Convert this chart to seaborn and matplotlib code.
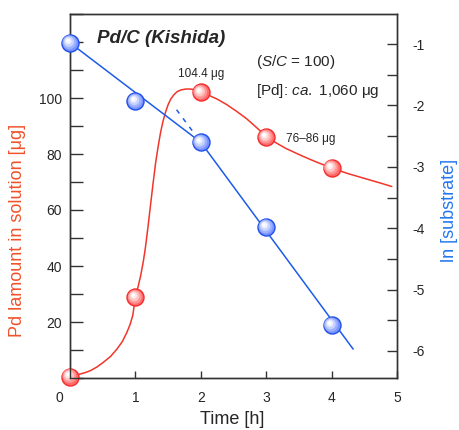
import matplotlib
matplotlib.use("Agg")
import matplotlib.pyplot as plt
import matplotlib.transforms as mtransforms
from matplotlib.ticker import MultipleLocator
import pandas as pd
import seaborn as sns

# ---- data ----
time_h = [0, 1, 2, 3, 4]
pd_amount = [0.5, 28.8, 102, 86, 75]          # Pd amount in solution [ug]
ln_substrate = [-0.98, -1.93, -2.60, -3.98, -5.58]

# traced smooth curve through the Pd points
pd_curve_x = [0, 0.08, 0.15, 0.23, 0.31, 0.41, 0.51, 0.62, 0.72, 0.8, 0.87, 0.92,
              0.96, 1.0, 1.04, 1.08, 1.12, 1.15, 1.19, 1.23, 1.27, 1.31, 1.35,
              1.385, 1.42, 1.46, 1.5, 1.54, 1.59, 1.64, 1.7, 1.77, 1.84, 1.9,
              2.0, 2.12, 2.25, 2.4, 2.55, 2.7, 2.85, 3.0, 3.15, 3.3, 3.54, 3.75,
              4.0, 4.25, 4.5, 4.75, 4.92]
pd_curve_y = [0.5, 0.9, 1.4, 1.9, 2.6, 3.9, 5.6, 7.7, 10.4, 13.0, 16.3, 19.2,
              22.4, 28.8, 32.5, 36.5, 41.5, 46, 53.5, 61.5, 69.5, 77, 83,
              87.7, 91.5, 94.9, 97.6, 99.6, 101.2, 102.3, 102.9, 103.2, 103.2, 103.0,
              102, 101.0, 99.6, 97.6, 95.2, 92.6, 89.5, 86.3, 84.0, 82.0, 79.4, 77.3,
              75, 73, 71.3, 69.6, 68.4]

# fitted lines for ln[substrate]
fit1_x = [0, 2]
fit1_y = [-0.98, -2.60]
fit2_x = [2, 4.33]
fit2_y = [-2.60, -5.97]
fit2_back_x = [1.63, 2]
fit2_back_y = [-2.07, -2.60]

RED = "#f2352a"
BLUE = "#1d5ce8"
RED_LABEL = "#f0522a"
BLUE_LABEL = "#2477f0"
SPINE = "#333333"

sns.set_style("ticks")
plt.rcParams["font.family"] = ["Liberation Sans", "DejaVu Sans"]
plt.rcParams["axes.unicode_minus"] = False
plt.rcParams["mathtext.fontset"] = "custom"
plt.rcParams["mathtext.it"] = "Liberation Sans:italic"
plt.rcParams["mathtext.rm"] = "Liberation Sans"

fig = plt.figure(figsize=(4.59, 4.30), dpi=100)
ax = fig.add_axes([70 / 459, 52 / 430, 327 / 459, 364 / 430])
ax2 = ax.twinx()


def glossy_balls(axis, x, y, layers):
    # stack a few shrinking circles shifted up-left to fake a shiny sphere
    for size, face, edge, lw, dx, dy in layers:
        sns.scatterplot(x=x, y=y, ax=axis, s=size, color=face, edgecolor=edge,
                        linewidth=lw, zorder=5, legend=False)
        coll = axis.collections[-1]
        coll.set_offset_transform(axis.transData + mtransforms.ScaledTranslation(
            dx / 72, dy / 72, fig.dpi_scale_trans))
        coll.set_clip_on(False)


# red curve + points
curve = pd.DataFrame({"t": pd_curve_x, "amt": pd_curve_y})
sns.lineplot(data=curve, x="t", y="amt", ax=ax, color=RED, lw=1.1, sort=False,
             estimator=None)
glossy_balls(ax, time_h, pd_amount, [
    (150, "#ff6a6a", "#f52c2c", 1.0, 0, 0),
    (100, "#ff9696", "none", 0, -0.4, 0.4),
    (55, "#ffc4c4", "none", 0, -0.8, 0.8),
    (22, "#ffeaea", "none", 0, -1.2, 1.3),
    (6, "#ffffff", "none", 0, -1.5, 1.6),
])

# blue lines + points
sns.lineplot(x=fit1_x, y=fit1_y, ax=ax2, color=BLUE, lw=1.1)
sns.lineplot(x=fit2_x, y=fit2_y, ax=ax2, color=BLUE, lw=1.1)
sns.lineplot(x=fit2_back_x, y=fit2_back_y, ax=ax2, color=BLUE, lw=1.1,
             dashes=False, linestyle=(0, (3, 4)))
glossy_balls(ax2, time_h, ln_substrate, [
    (150, "#7893ff", "#1f4fe8", 1.0, 0, 0),
    (100, "#9db1ff", "none", 0, -0.4, 0.4),
    (55, "#c8d4ff", "none", 0, -0.8, 0.8),
    (22, "#ecf0ff", "none", 0, -1.2, 1.3),
    (6, "#ffffff", "none", 0, -1.5, 1.6),
])

# axes limits & ticks
ax.set_xlim(0, 5)
ax.set_ylim(0, 130)
ax2.set_ylim(-6.44, -0.51)
ax.set_xticks([0, 1, 2, 3, 4, 5])
ax.set_yticks([20, 40, 60, 80, 100])
ax.yaxis.set_minor_locator(MultipleLocator(10))
ax2.set_yticks([-1, -2, -3, -4, -5, -6])
ax2.yaxis.set_minor_locator(MultipleLocator(0.5))

for a in (ax, ax2):
    for sp in a.spines.values():
        sp.set_visible(True)
        sp.set_color(SPINE)
        sp.set_linewidth(1.0)

ax.tick_params(axis="x", which="both", direction="in", length=5, width=1,
               color=SPINE, labelsize=10, pad=9, top=False)
ax.tick_params(axis="y", which="both", direction="in", length=9, width=1,
               color=SPINE, labelsize=10, pad=6, right=False)
ax2.tick_params(axis="y", which="both", direction="in", length=7, width=1,
                color=SPINE, labelsize=10, pad=11)

# the "0" on the time axis sits a bit to the left in the original
ax.get_xticklabels()[0].set_transform(
    ax.get_xticklabels()[0].get_transform()
    + mtransforms.ScaledTranslation(-8 / 72, 0, fig.dpi_scale_trans))

ax.set_xlabel("")
ax.set_ylabel("")
ax2.set_ylabel("")

fig.text(232 / 459, 1 - 420 / 430, "Time [h]", ha="center", va="center",
         fontsize=13)
fig.text(18 / 459, 1 - 230 / 430, "Pd lamount in solution [\u03bcg]",
         rotation=90, ha="center", va="center", fontsize=13, color=RED_LABEL)
fig.text(449 / 459, 1 - 210 / 430, "ln [substrate]", rotation=90,
         ha="center", va="center", fontsize=13, color=BLUE_LABEL)

# annotations
ax.text(0.415, 121.4, "Pd/C (Kishida)", fontsize=13.5, fontweight="bold",
        fontstyle="italic", ha="left", va="center")
ax.text(2.85, 112.9, "($\\mathit{S/C}$ = 100)", fontsize=11, ha="left",
        va="center")
ax.text(2.85, 102.5, "[Pd]: $\\mathit{ca.}$ 1,060 \u03bcg", fontsize=11,
        ha="left", va="center")
ax.text(1.65, 108.6, "104.4 \u03bcg", fontsize=8.5, ha="left", va="center")
ax.text(3.31, 85.4, "76\u201386 \u03bcg", fontsize=8.5, ha="left", va="center")

fig.savefig("out.png", dpi=100)
